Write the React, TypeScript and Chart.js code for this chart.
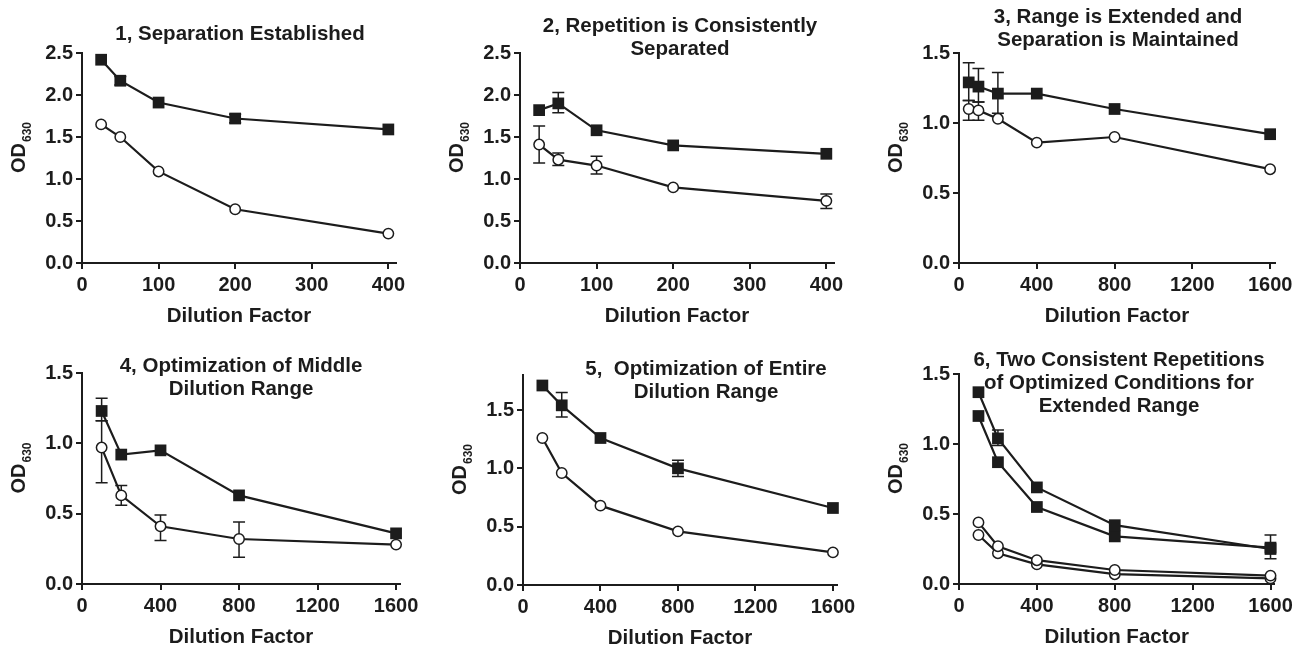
import React, { useEffect, useRef } from 'react';
import { Chart, registerables } from 'chart.js';
Chart.register(...registerables);

const W = 1297;
const H = 645;
const FONT = '"Liberation Sans", Arial, Helvetica, sans-serif';
const INK = '#1c1c1c';

// ---------- Data ----------
// Tick labels
const xTicksShort = [0, 100, 200, 300, 400];
const xTicksLong = [0, 400, 800, 1200, 1600];
const yTicksTall = [0, 0.5, 1.0, 1.5, 2.0, 2.5];
const yTicksLow = [0, 0.5, 1.0, 1.5];

// Panel 1
const p1X = [25, 50, 100, 200, 400];
const p1Filled = [2.42, 2.17, 1.91, 1.72, 1.59];
const p1FilledErr = [null, [2.12, 2.22], null, [1.67, 1.77], null];
const p1Open = [1.65, 1.5, 1.09, 0.64, 0.35];
const p1OpenErr = [null, null, null, null, null];

// Panel 2
const p2X = [25, 50, 100, 200, 400];
const p2Filled = [1.82, 1.9, 1.58, 1.4, 1.3];
const p2FilledErr = [null, [1.79, 2.03], null, null, null];
const p2Open = [1.41, 1.23, 1.16, 0.9, 0.74];
const p2OpenErr = [[1.19, 1.63], [1.16, 1.31], [1.06, 1.27], null, [0.65, 0.82]];

// Panel 3
const p3X = [50, 100, 200, 400, 800, 1600];
const p3Filled = [1.29, 1.26, 1.21, 1.21, 1.1, 0.92];
const p3FilledErr = [[1.16, 1.43], [1.15, 1.39], [1.07, 1.36], null, null, null];
const p3Open = [1.1, 1.09, 1.03, 0.86, 0.9, 0.67];
const p3OpenErr = [[1.02, 1.16], [1.02, 1.15], null, null, null, null];

// Panel 4
const p4X = [100, 200, 400, 800, 1600];
const p4Filled = [1.23, 0.92, 0.95, 0.63, 0.36];
const p4FilledErr = [[1.16, 1.32], null, null, null, null];
const p4Open = [0.97, 0.63, 0.41, 0.32, 0.28];
const p4OpenErr = [[0.72, 1.16], [0.56, 0.7], [0.31, 0.49], [0.19, 0.44], null];

// Panel 5
const p5X = [100, 200, 400, 800, 1600];
const p5Filled = [1.71, 1.54, 1.26, 1.0, 0.66];
const p5FilledErr = [null, [1.44, 1.65], null, [0.93, 1.07], null];
const p5Open = [1.26, 0.96, 0.68, 0.46, 0.28];
const p5OpenErr = [null, null, null, null, null];

// Panel 6
const p6X = [100, 200, 400, 800, 1600];
const p6FilledA = [1.37, 1.04, 0.69, 0.42, 0.25];
const p6FilledAErr = [null, [0.99, 1.1], null, null, [0.18, 0.35]];
const p6FilledB = [1.2, 0.87, 0.55, 0.34, 0.26];
const p6FilledBErr = [null, null, null, null, null];
const p6OpenA = [0.44, 0.27, 0.17, 0.1, 0.06];
const p6OpenAErr = [null, null, null, null, null];
const p6OpenB = [0.35, 0.22, 0.14, 0.07, 0.04];
const p6OpenBErr = [null, null, null, null, null];

type Series = { x: number[]; y: number[]; err: (number[] | null)[]; kind: 'filled' | 'open' };
type Panel = {
  title: string[];
  titleX: number;
  titleY: number;
  area: { l: number; t: number; r: number; b: number };
  xMax: number;
  xTicks: number[];
  yMax: number;
  yTicks: number[];
  series: Series[];
};

const PANELS: Panel[] = [
  {
    title: ['1, Separation Established'],
    titleX: 240, titleY: 39.5,
    area: { l: 82, t: 53, r: 396, b: 263 },
    xMax: 410, xTicks: xTicksShort, yMax: 2.5, yTicks: yTicksTall,
    series: [
      { x: p1X, y: p1Filled, err: p1FilledErr, kind: 'filled' },
      { x: p1X, y: p1Open, err: p1OpenErr, kind: 'open' },
    ],
  },
  {
    title: ['2, Repetition is Consistently', 'Separated'],
    titleX: 680, titleY: 32,
    area: { l: 520, t: 53, r: 834, b: 263 },
    xMax: 410, xTicks: xTicksShort, yMax: 2.5, yTicks: yTicksTall,
    series: [
      { x: p2X, y: p2Filled, err: p2FilledErr, kind: 'filled' },
      { x: p2X, y: p2Open, err: p2OpenErr, kind: 'open' },
    ],
  },
  {
    title: ['3, Range is Extended and', 'Separation is Maintained'],
    titleX: 1118, titleY: 23,
    area: { l: 959, t: 53, r: 1275, b: 263 },
    xMax: 1625, xTicks: xTicksLong, yMax: 1.5, yTicks: yTicksLow,
    series: [
      { x: p3X, y: p3Filled, err: p3FilledErr, kind: 'filled' },
      { x: p3X, y: p3Open, err: p3OpenErr, kind: 'open' },
    ],
  },
  {
    title: ['4, Optimization of Middle', 'Dilution Range'],
    titleX: 241, titleY: 372,
    area: { l: 82, t: 373, r: 400, b: 584 },
    xMax: 1620, xTicks: xTicksLong, yMax: 1.5, yTicks: yTicksLow,
    series: [
      { x: p4X, y: p4Filled, err: p4FilledErr, kind: 'filled' },
      { x: p4X, y: p4Open, err: p4OpenErr, kind: 'open' },
    ],
  },
  {
    title: ['5,  Optimization of Entire', 'Dilution Range'],
    titleX: 706, titleY: 375,
    area: { l: 523, t: 375, r: 837, b: 585 },
    xMax: 1621, xTicks: xTicksLong, yMax: 1.8, yTicks: yTicksLow,
    series: [
      { x: p5X, y: p5Filled, err: p5FilledErr, kind: 'filled' },
      { x: p5X, y: p5Open, err: p5OpenErr, kind: 'open' },
    ],
  },
  {
    title: ['6, Two Consistent Repetitions', 'of Optimized Conditions for', 'Extended Range'],
    titleX: 1119, titleY: 366,
    area: { l: 959, t: 374, r: 1278, b: 584 },
    xMax: 1620, xTicks: xTicksLong, yMax: 1.5, yTicks: yTicksLow,
    series: [
      { x: p6X, y: p6FilledA, err: p6FilledAErr, kind: 'filled' },
      { x: p6X, y: p6FilledB, err: p6FilledBErr, kind: 'filled' },
      { x: p6X, y: p6OpenA, err: p6OpenAErr, kind: 'open' },
      { x: p6X, y: p6OpenB, err: p6OpenBErr, kind: 'open' },
    ],
  },
];

const Y_AXIS_W = 60;
const X_AXIS_H = 40;

function makeConfig(p: Panel, idx: number): any {
  const { l, t, r, b } = p.area;
  const tickFont = { family: FONT, size: 20, weight: 'bold' as const };
  const setTicks = (vals: number[]) => (scale: any) => {
    scale.ticks = vals.map((v) => ({ value: v }));
  };
  const gridOpts = {
    display: true,
    drawOnChartArea: false,
    drawTicks: true,
    tickLength: 6,
    color: INK,
    lineWidth: 2,
  };
  const overlay = {
    id: 'overlay' + idx,
    beforeDatasetsDraw(chart: any) {
      const ctx = chart.ctx;
      const ys = chart.scales.y;
      ctx.save();
      ctx.strokeStyle = INK;
      ctx.lineWidth = 1.5;
      p.series.forEach((s, di) => {
        const meta = chart.getDatasetMeta(di);
        s.err.forEach((e, j) => {
          if (!e) return;
          const px = meta.data[j].x;
          const y1 = ys.getPixelForValue(e[0]);
          const y2 = ys.getPixelForValue(e[1]);
          ctx.beginPath();
          ctx.moveTo(px, y1);
          ctx.lineTo(px, y2);
          ctx.moveTo(px - 6, y1);
          ctx.lineTo(px + 6, y1);
          ctx.moveTo(px - 6, y2);
          ctx.lineTo(px + 6, y2);
          ctx.stroke();
        });
      });
      ctx.restore();
    },
    afterDraw(chart: any) {
      const ctx = chart.ctx;
      const ca = chart.chartArea;
      ctx.save();
      ctx.fillStyle = INK;
      ctx.font = `bold 20.5px ${FONT}`;
      ctx.textAlign = 'center';
      ctx.textBaseline = 'alphabetic';
      p.title.forEach((line, i) => {
        ctx.fillText(line, p.titleX, p.titleY + i * 23);
      });
      ctx.fillText('Dilution Factor', (ca.left + ca.right) / 2, ca.bottom + 58.5);
      ctx.textAlign = 'left';
      ctx.font = `bold 20px ${FONT}`;
      const w1 = ctx.measureText('OD').width;
      ctx.font = `bold 12px ${FONT}`;
      const w2 = ctx.measureText('630').width;
      const total = w1 + 1 + w2;
      const cy = (ca.top + ca.bottom) / 2 - 10.5;
      ctx.translate(ca.left - 57, cy + total / 2);
      ctx.rotate(-Math.PI / 2);
      ctx.font = `bold 20px ${FONT}`;
      ctx.fillText('OD', 0, 0);
      ctx.font = `bold 12px ${FONT}`;
      ctx.fillText('630', w1 + 1, 6);
      ctx.restore();
    },
  };

  return {
    type: 'line',
    data: {
      datasets: p.series.map((s) => ({
        data: s.x.map((xv, i) => ({ x: xv, y: s.y[i] })),
        borderColor: INK,
        borderWidth: 2.2,
        tension: 0,
        fill: false,
        clip: false,
        pointStyle: s.kind === 'filled' ? 'rect' : 'circle',
        pointRadius: s.kind === 'filled' ? 8.3 : 5.2,
        pointBackgroundColor: s.kind === 'filled' ? INK : '#ffffff',
        pointBorderColor: INK,
        pointBorderWidth: s.kind === 'filled' ? 0 : 1.5,
      })),
    },
    options: {
      responsive: false,
      maintainAspectRatio: false,
      devicePixelRatio: 1,
      animation: false,
      events: [],
      layout: {
        padding: {
          left: l - Y_AXIS_W,
          top: t,
          right: W - r,
          bottom: H - b - X_AXIS_H,
        },
      },
      plugins: { legend: { display: false }, tooltip: { enabled: false }, title: { display: false } },
      scales: {
        x: {
          type: 'linear',
          min: 0,
          max: p.xMax,
          afterFit: (sc: any) => { sc.height = X_AXIS_H; },
          afterBuildTicks: setTicks(p.xTicks),
          ticks: {
            autoSkip: false,
            includeBounds: false,
            maxRotation: 0,
            minRotation: 0,
            padding: 4,
            color: INK,
            font: tickFont,
            callback: (v: any) => String(v),
          },
          grid: gridOpts,
          border: { display: true, color: INK, width: 2 },
        },
        y: {
          type: 'linear',
          min: 0,
          max: p.yMax,
          afterFit: (sc: any) => { sc.width = Y_AXIS_W; },
          afterBuildTicks: setTicks(p.yTicks),
          ticks: {
            autoSkip: false,
            includeBounds: false,
            padding: 3,
            color: INK,
            font: tickFont,
            callback: (v: any) => Number(v).toFixed(1),
          },
          grid: gridOpts,
          border: { display: true, color: INK, width: 2 },
        },
      },
    },
    plugins: [overlay],
  };
}

function PanelCanvas({ panel, idx }: { panel: Panel; idx: number }) {
  const ref = useRef<HTMLCanvasElement | null>(null);
  useEffect(() => {
    if (!ref.current) return;
    const chart = new Chart(ref.current, makeConfig(panel, idx));
    return () => chart.destroy();
  }, [panel, idx]);
  return (
    <canvas
      ref={ref}
      width={W}
      height={H}
      style={{ position: 'absolute', left: 0, top: 0, width: W, height: H }}
    />
  );
}

export default function App() {
  return (
    <div
      style={{
        position: 'fixed',
        left: 0,
        top: 0,
        width: W,
        height: H,
        background: '#ffffff',
        overflow: 'hidden',
      }}
    >
      {PANELS.map((p, i) => (
        <PanelCanvas key={i} panel={p} idx={i} />
      ))}
    </div>
  );
}
